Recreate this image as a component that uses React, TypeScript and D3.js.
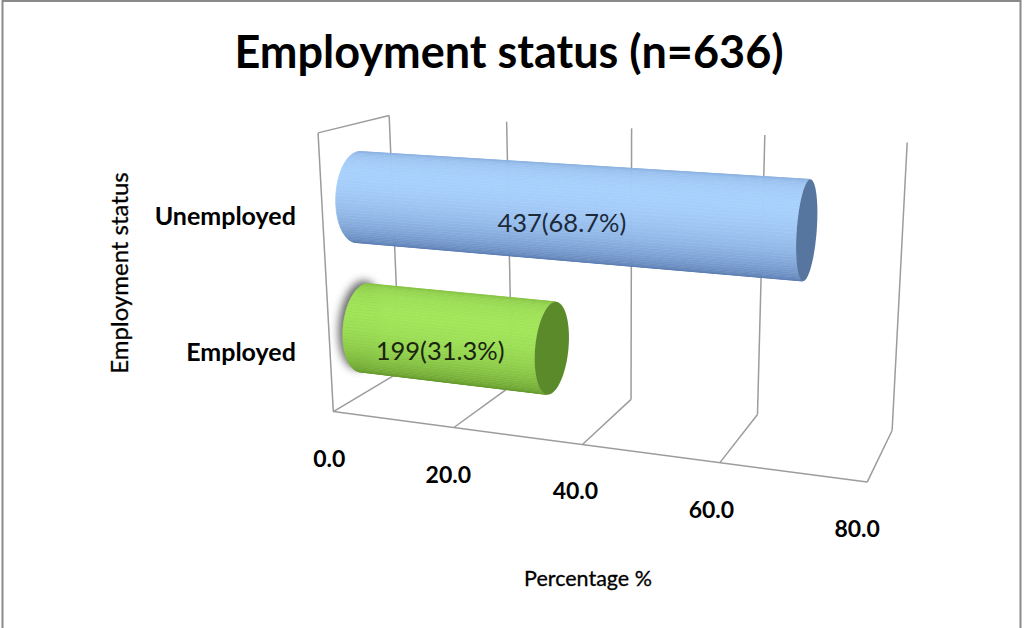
import React from "react";
import * as d3 from "d3";

// ---------------- data ----------------
const categories = ["Unemployed", "Employed"];
const counts = [437, 199];
const percents = [68.7, 31.3];
const xTicks = [0, 20, 40, 60, 80];
const xTickLabels = ["0.0", "20.0", "40.0", "60.0", "80.0"];
const chartTitle = "Employment status (n=636)";
const yAxisTitle = "Employment status";
const xAxisTitle = "Percentage %";

// ---------------- layout ----------------
const W = 1024;
const H = 628;
const FONT = "Lato, 'Open Sans', sans-serif";
// screen anchors of the 3D plot box (world X 0..1 along value axis, Y 0..1 up, Z 0 front..1 back)
const boxAnchors: { w: [number, number, number]; p: [number, number] }[] = [
  { w: [0, 1, 0], p: [318, 133] },
  { w: [0, 0, 0], p: [333, 412] },
  { w: [0, 1, 1], p: [389, 116] },
  { w: [0, 0, 1], p: [400, 371] },
  { w: [1, 1, 1], p: [907, 142] },
  { w: [1, 0, 1], p: [892, 431] },
  { w: [1, 0, 0], p: [867, 482] },
  { w: [0.5, 1, 1], p: [632, 128] },
  { w: [0.5, 0, 0], p: [583, 444] },
  { w: [0.5, 0, 1], p: [631, 400] },
];

function solveCamera(pts: typeof boxAnchors) {
  const A: number[][] = [];
  const b: number[] = [];
  for (const { w, p } of pts) {
    const [X, Y, Z] = w;
    const [u, v] = p;
    A.push([X, Y, Z, 1, 0, 0, 0, 0, -u * X, -u * Y, -u * Z]);
    b.push(u);
    A.push([0, 0, 0, 0, X, Y, Z, 1, -v * X, -v * Y, -v * Z]);
    b.push(v);
  }
  const n = 11;
  const M: number[][] = [];
  for (let i = 0; i < n; i++) {
    const row: number[] = [];
    for (let j = 0; j < n; j++) {
      let s = 0;
      for (let k = 0; k < A.length; k++) s += A[k][i] * A[k][j];
      row.push(s);
    }
    let s = 0;
    for (let k = 0; k < A.length; k++) s += A[k][i] * b[k];
    row.push(s);
    M.push(row);
  }
  for (let c = 0; c < n; c++) {
    let piv = c;
    for (let r = c + 1; r < n; r++) if (Math.abs(M[r][c]) > Math.abs(M[piv][c])) piv = r;
    [M[c], M[piv]] = [M[piv], M[c]];
    for (let r = 0; r < n; r++) {
      if (r === c) continue;
      const f = M[r][c] / M[c][c];
      for (let k = c; k <= n; k++) M[r][k] -= f * M[c][k];
    }
  }
  return M.map((row, i) => row[n] / row[i]);
}

const cam = solveCamera(boxAnchors);
function P(X: number, Y: number, Z: number): [number, number] {
  const w = cam[8] * X + cam[9] * Y + cam[10] * Z + 1;
  return [
    (cam[0] * X + cam[1] * Y + cam[2] * Z + cam[3]) / w,
    (cam[4] * X + cam[5] * Y + cam[6] * Z + cam[7]) / w,
  ];
}

const xScale = d3.scaleLinear().domain([0, 80]).range([0, 1]);
const yBand = d3
  .scaleBand<string>()
  .domain(["Employed", "Unemployed"])
  .range([0, 0.98])
  .paddingInner(0.33)
  .paddingOuter(0.165);

const rY = yBand.bandwidth() / 2;
const rZ = 0.32;
const Zc = 0.5;

const palettes: Record<string, { dark: string; light: string; cap: string; text: string }> = {
  Unemployed: { dark: "#3f5f98", light: "#a8d0fc", cap: "#56769f", text: "#1c2a3a" },
  Employed: { dark: "#477514", light: "#a2e55a", cap: "#5b8a2a", text: "#1a2410" },
};

const line = d3.line();

function Cylinder({ cat, value }: { cat: string; value: number }) {
  const Yc = (yBand(cat) as number) + rY;
  const X1 = xScale(value);
  const pal = palettes[cat];
  const N = 90;
  const phis = d3.range(N).map((i) => (i / N) * Math.PI * 2);
  const ring = (X: number) =>
    phis.map((f) => P(X, Yc + rY * Math.sin(f), Zc - rZ * Math.cos(f)));
  const L = ring(0);
  const R = ring(X1);
  const col = d3.interpolateRgb(pal.dark, pal.light);
  const facets: { d: string; c: string }[] = [];
  const area = (q: [number, number][]) => d3.polygonArea(q);
  const refSign = Math.sign(area([L[0], L[1], R[1], R[0]]));
  for (let i = 0; i < N; i++) {
    const j = (i + 1) % N;
    const q: [number, number][] = [L[i], L[j], R[j], R[i]];
    if (Math.sign(area(q)) !== refSign) continue;
    const fm = phis[i] + Math.PI / N;
    const inten = 0.5 + 0.5 * Math.cos(fm - (40 * Math.PI) / 180);
    facets.push({ d: line(q)! + "Z", c: col(Math.pow(inten, 1.15)) });
  }
  const labelPt = P(X1 * 0.52, Yc, Zc - rZ);
  const idx = categories.indexOf(cat);
  return (
    <g>
      {cat === "Employed" && (
        <path
          d={line(L.map(([x, y]) => [x - 4, y - 3] as [number, number]))! + "Z"}
          fill="#4a4a4a"
          opacity={0.85}
          filter="url(#blur)"
        />
      )}
      {facets.map((f, i) => (
        <path key={i} d={f.d} fill={f.c} stroke={f.c} strokeWidth={0.6} />
      ))}
      <path d={line(R)! + "Z"} fill={pal.cap} />
      <text
        x={labelPt[0]}
        y={labelPt[1]}
        textAnchor="middle"
        dominantBaseline="central"
        fontFamily={FONT}
        fontSize={25.5}
        fill={pal.text}
      >
        {`${counts[idx]}(${percents[idx].toFixed(1)}%)`}
      </text>
    </g>
  );
}

export default function App() {
  const grid = "#9c9c9c";
  const seg = (a: [number, number], b: [number, number], k: string) => (
    <line key={k} x1={a[0]} y1={a[1]} x2={b[0]} y2={b[1]} stroke={grid} strokeWidth={1.5} />
  );
  const lines: React.ReactNode[] = [];
  xTicks.forEach((t) => {
    const X = xScale(t);
    lines.push(seg(P(X, 0, 1), P(X, 1, 1), "bw" + t));
    lines.push(seg(P(X, 0, 0), P(X, 0, 1), "fl" + t));
  });
  lines.push(seg(P(0, 0, 0), P(1, 0, 0), "front"));
  lines.push(seg(P(0, 0, 0), P(0, 1, 0), "sideFront"));
  lines.push(seg(P(0, 1, 0), P(0, 1, 1), "sideTop"));

  const catLabelX = P(0, 0.5, 0)[0] - 30;

  return (
    <svg
      width={W}
      height={H}
      viewBox={`0 0 ${W} ${H}`}
      style={{ position: "absolute", left: 0, top: 0, background: "#fff" }}
    >
      <defs>
        <filter id="blur" x="-50%" y="-50%" width="200%" height="200%">
          <feGaussianBlur stdDeviation={4.5} />
        </filter>
      </defs>
      <rect x={2.5} y={1} width={1018} height={660} fill="#fff" stroke="#8a8a8a" strokeWidth={2} />
      <text x={509} y={51} textAnchor="middle" dominantBaseline="central" fontFamily={FONT} fontWeight="bold" fontSize={45} fill="#000">
        {chartTitle}
      </text>
      {lines}
      {categories.map((c, i) => (
        <Cylinder key={c} cat={c} value={percents[i]} />
      ))}
      {categories.map((c) => {
        const p = P(0, (yBand(c) as number) + rY, 0);
        return (
          <text key={c} x={catLabelX} y={p[1] + 5} textAnchor="end" dominantBaseline="central" fontFamily={FONT} fontWeight="bold" fontSize={25} fill="#000">
            {c}
          </text>
        );
      })}
      {xTicks.map((t, i) => {
        const p = P(xScale(t), 0, 0);
        return (
          <text key={t} x={p[0] - 4 - i * 1.5} y={p[1] + 46} textAnchor="middle" dominantBaseline="central" fontFamily={FONT} fontWeight="bold" fontSize={23} fill="#000">
            {xTickLabels[i]}
          </text>
        );
      })}
      <text x={588} y={578} textAnchor="middle" dominantBaseline="central" fontFamily={FONT} fontSize={21.5} fill="#000" stroke="#000" strokeWidth={0.3}>
        {xAxisTitle}
      </text>
      <text transform="translate(118,273) rotate(-90)" textAnchor="middle" dominantBaseline="central" fontFamily={FONT} fontSize={24} fill="#000" stroke="#000" strokeWidth={0.3}>
        {yAxisTitle}
      </text>
    </svg>
  );
}
